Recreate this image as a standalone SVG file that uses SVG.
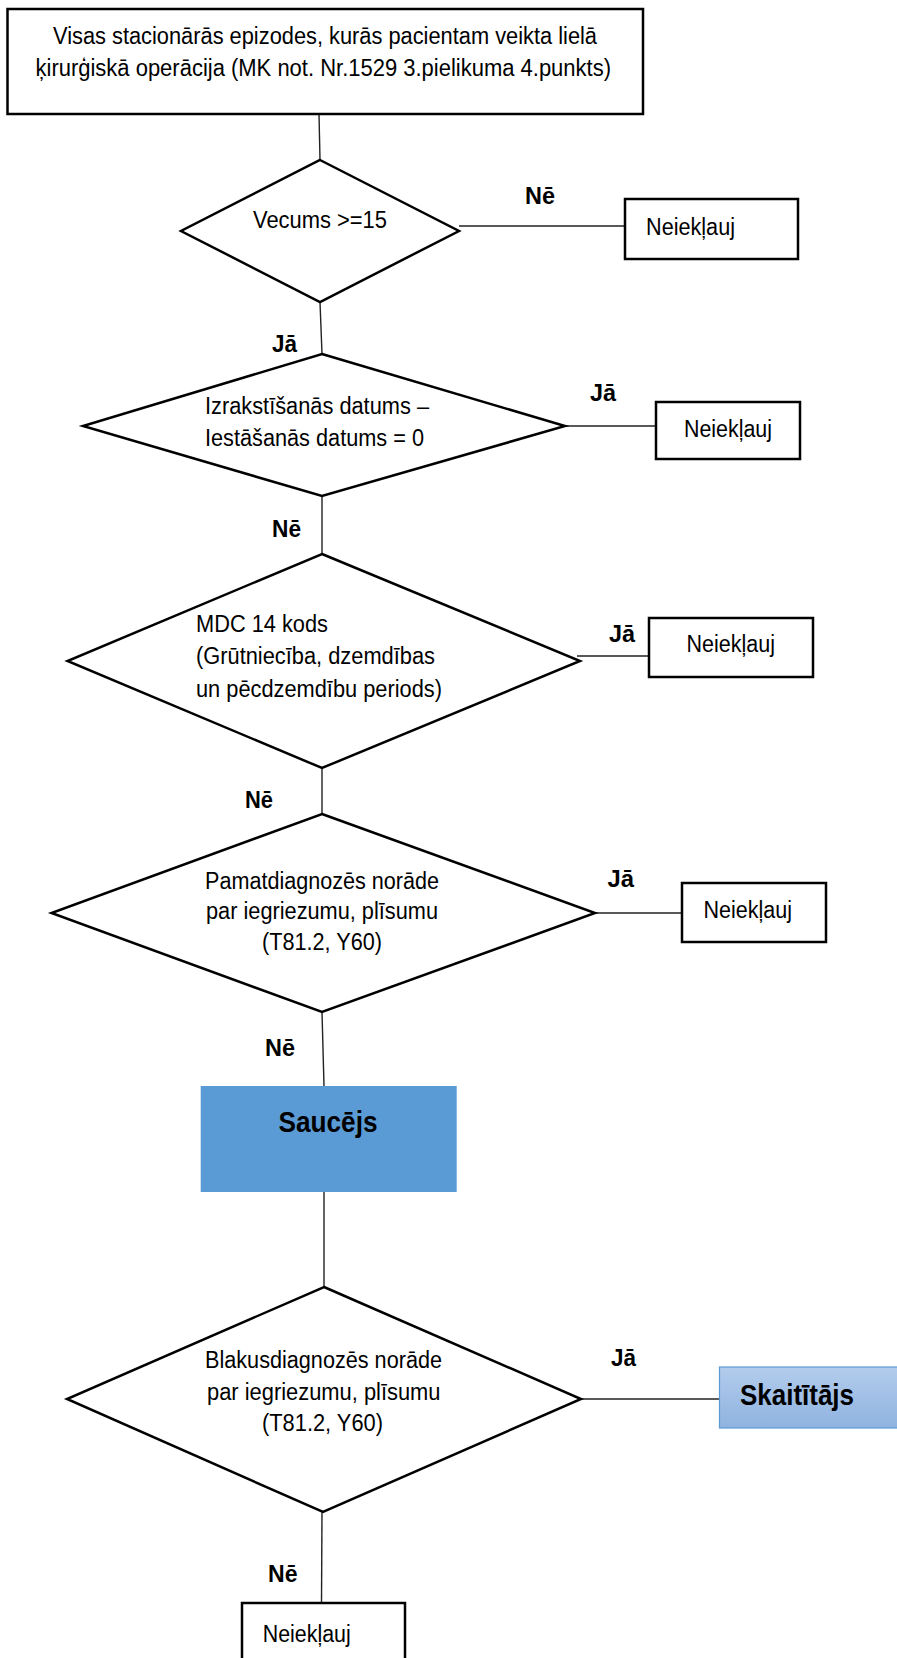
<svg xmlns="http://www.w3.org/2000/svg" width="897" height="1658" viewBox="0 0 897 1658">
<defs>
<linearGradient id="gSk" x1="0" y1="0" x2="0" y2="1">
<stop offset="0" stop-color="#B3CCEC"/>
<stop offset="1" stop-color="#8FB3E0"/>
</linearGradient>
<style>
.box{fill:#fff;stroke:#000;stroke-width:2.5}
.dia{fill:#fff;stroke:#000;stroke-width:2.5;stroke-linejoin:miter}
.con{stroke:#222;stroke-width:1.4;fill:none}
.t{font-family:"Liberation Sans",Arial,sans-serif;font-size:23px;fill:#000}
.l{font-family:"Liberation Sans",Arial,sans-serif;font-size:23px;font-weight:bold;fill:#000}
.b{font-family:"Liberation Sans",Arial,sans-serif;font-size:30px;font-weight:bold;fill:#000}
</style>
</defs>
<rect width="897" height="1658" fill="#fff"/>

<g id="connectors">
<line class="con" x1="319" y1="114" x2="320" y2="160"/>
<line class="con" x1="459" y1="226" x2="625" y2="226"/>
<line class="con" x1="320" y1="302" x2="322" y2="354"/>
<line class="con" x1="565" y1="426" x2="656" y2="426"/>
<line class="con" x1="322" y1="496" x2="322" y2="554"/>
<line class="con" x1="577" y1="656" x2="649" y2="656"/>
<line class="con" x1="322" y1="768" x2="322" y2="814"/>
<line class="con" x1="595" y1="913" x2="682" y2="913"/>
<line class="con" x1="322" y1="1012" x2="324" y2="1086"/>
<line class="con" x1="324" y1="1192" x2="324" y2="1287"/>
<line class="con" x1="581" y1="1399" x2="720" y2="1399"/>
<line class="con" x1="322" y1="1512" x2="321.5" y2="1603"/>
<text class="l" x="525" y="204" textLength="30" lengthAdjust="spacingAndGlyphs">Nē</text>
<text class="l" x="272" y="352" textLength="25" lengthAdjust="spacingAndGlyphs">Jā</text>
<text class="l" x="590" y="401" textLength="26" lengthAdjust="spacingAndGlyphs">Jā</text>
<text class="l" x="272" y="537" textLength="29" lengthAdjust="spacingAndGlyphs">Nē</text>
<text class="l" x="609" y="642" textLength="26" lengthAdjust="spacingAndGlyphs">Jā</text>
<text class="l" x="245" y="808" textLength="28" lengthAdjust="spacingAndGlyphs">Nē</text>
<text class="l" x="607.5" y="887" textLength="26.5" lengthAdjust="spacingAndGlyphs">Jā</text>
<text class="l" x="265" y="1056" textLength="30" lengthAdjust="spacingAndGlyphs">Nē</text>
<text class="l" x="611" y="1366" textLength="25" lengthAdjust="spacingAndGlyphs">Jā</text>
<text class="l" x="268" y="1582" textLength="29.5" lengthAdjust="spacingAndGlyphs">Nē</text>
</g>

<g id="start">
<rect class="box" x="7.5" y="9" width="635.5" height="105"/>
<text class="t" x="53" y="44" textLength="544" lengthAdjust="spacingAndGlyphs">Visas stacionārās epizodes, kurās pacientam veikta lielā</text>
<text class="t" x="35.5" y="76" textLength="575.5" lengthAdjust="spacingAndGlyphs">ķirurģiskā operācija (MK not. Nr.1529 3.pielikuma 4.punkts)</text>
</g>

<g id="d1">
<polygon class="dia" points="320,160 459,231 320,302 181,231"/>
<text class="t" x="253" y="228" textLength="134" lengthAdjust="spacingAndGlyphs">Vecums &gt;=15</text>
</g>
<g id="n1">
<rect class="box" x="625" y="199" width="173" height="60"/>
<text class="t" x="646" y="235" textLength="89" lengthAdjust="spacingAndGlyphs">Neiekļauj</text>
</g>

<g id="d2">
<polygon class="dia" points="322,354 565,426 322,496 83,426"/>
<text class="t" x="205" y="414" textLength="224" lengthAdjust="spacingAndGlyphs">Izrakstīšanās datums –</text>
<text class="t" x="205" y="446" textLength="219" lengthAdjust="spacingAndGlyphs">Iestāšanās datums = 0</text>
</g>
<g id="n2">
<rect class="box" x="656" y="402" width="144" height="57"/>
<text class="t" x="684" y="437" textLength="88" lengthAdjust="spacingAndGlyphs">Neiekļauj</text>
</g>

<g id="d3">
<polygon class="dia" points="322,554 580,661 322,768 67.5,661"/>
<text class="t" x="196" y="632" textLength="132" lengthAdjust="spacingAndGlyphs">MDC 14 kods</text>
<text class="t" x="196" y="664" textLength="239" lengthAdjust="spacingAndGlyphs">(Grūtniecība, dzemdības</text>
<text class="t" x="196" y="697" textLength="246" lengthAdjust="spacingAndGlyphs">un pēcdzemdību periods)</text>
</g>
<g id="n3">
<rect class="box" x="649" y="618" width="164" height="59"/>
<text class="t" x="686.5" y="652" textLength="88.5" lengthAdjust="spacingAndGlyphs">Neiekļauj</text>
</g>

<g id="d4">
<polygon class="dia" points="322,814 595,913 322,1012 51.5,913"/>
<text class="t" x="205" y="889" textLength="234" lengthAdjust="spacingAndGlyphs">Pamatdiagnozēs norāde</text>
<text class="t" x="206" y="919" textLength="232" lengthAdjust="spacingAndGlyphs">par iegriezumu, plīsumu</text>
<text class="t" x="262" y="950" textLength="120" lengthAdjust="spacingAndGlyphs">(T81.2, Y60)</text>
</g>
<g id="n4">
<rect class="box" x="682" y="883" width="144" height="59"/>
<text class="t" x="703.5" y="918" textLength="88.5" lengthAdjust="spacingAndGlyphs">Neiekļauj</text>
</g>

<g id="saucejs">
<rect x="200.7" y="1086" width="256" height="106" fill="#5B9BD5"/>
<text class="b" x="278.5" y="1131.5" textLength="99" lengthAdjust="spacingAndGlyphs">Saucējs</text>
</g>

<g id="d5">
<polygon class="dia" points="324,1287 581,1399 323,1512 67,1399"/>
<text class="t" x="205" y="1368" textLength="237" lengthAdjust="spacingAndGlyphs">Blakusdiagnozēs norāde</text>
<text class="t" x="207" y="1400" textLength="233.5" lengthAdjust="spacingAndGlyphs">par iegriezumu, plīsumu</text>
<text class="t" x="262" y="1431" textLength="121" lengthAdjust="spacingAndGlyphs">(T81.2, Y60)</text>
</g>

<g id="skaititajs">
<rect x="719.5" y="1367" width="200" height="61" fill="url(#gSk)" stroke="#5B9BD5" stroke-width="1.2"/>
<text class="b" x="740" y="1405" textLength="114" lengthAdjust="spacingAndGlyphs">Skaitītājs</text>
</g>

<g id="n5">
<rect class="box" x="242" y="1603" width="163" height="80"/>
<text class="t" x="262.7" y="1641.5" textLength="88" lengthAdjust="spacingAndGlyphs">Neiekļauj</text>
</g>
</svg>
